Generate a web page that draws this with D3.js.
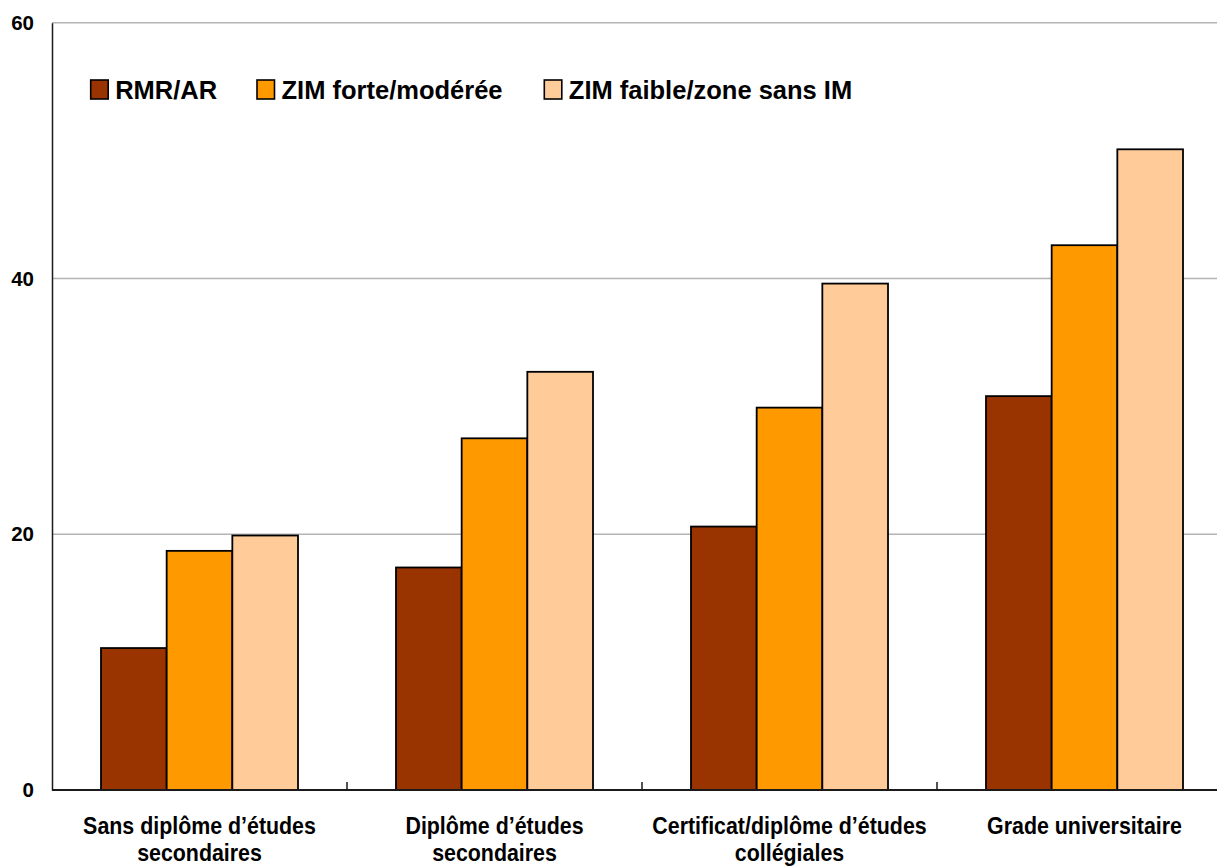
<!DOCTYPE html>
<html>
<head>
<meta charset="utf-8">
<script src="https://cdn.jsdelivr.net/npm/d3@7"></script>
<style>
  html, body { margin: 0; padding: 0; background: #fff; }
  svg { display: block; }
  text { font-family: "Liberation Sans", Arial, sans-serif; font-weight: bold; fill: #000; }
</style>
</head>
<body>
<svg id="chart" width="1217" height="867"></svg>
<script>
// Education level categories (each label split into lines)
const categories = [
  "Sans diplôme d’études secondaires",
  "Diplôme d’études secondaires",
  "Certificat/diplôme d’études collégiales",
  "Grade universitaire"
];
const categoryLines = [
  ["Sans diplôme d’études", "secondaires"],
  ["Diplôme d’études", "secondaires"],
  ["Certificat/diplôme d’études", "collégiales"],
  ["Grade universitaire"]
];

// Series names and values (percent)
const seriesNames = ["RMR/AR", "ZIM forte/modérée", "ZIM faible/zone sans IM"];
const rmrAr        = [11.1, 17.4, 20.6, 30.8];
const zimForte     = [18.7, 27.5, 29.9, 42.6];
const zimFaible    = [19.9, 32.7, 39.6, 50.1];
const seriesValues = [rmrAr, zimForte, zimFaible];
const seriesColors = ["#993300", "#FF9900", "#FFCC99"];

// Y axis ticks
const yTicks = [0, 20, 40, 60];

const svg = d3.select("#chart");

// Plot frame
const plotLeft = 52, plotRight = 1232, plotTop = 22.7, plotBottom = 790;

const x0 = d3.scaleBand()
  .domain(categories)
  .range([plotLeft, plotRight])
  .paddingInner(0)
  .paddingOuter(0);

const x1 = d3.scaleBand()
  .domain(seriesNames)
  .range([0, x0.bandwidth()])
  .paddingInner(0)
  .paddingOuter(0.746);

const y = d3.scaleLinear()
  .domain([0, 60])
  .range([plotBottom, plotTop]);

// Horizontal gridlines
svg.append("g")
  .selectAll("line")
  .data(yTicks.filter(d => d > 0))
  .join("line")
  .attr("x1", plotLeft)
  .attr("x2", plotRight)
  .attr("y1", d => y(d))
  .attr("y2", d => y(d))
  .attr("stroke", "#b4b4b4")
  .attr("stroke-width", 1.5);

// Bars
const rows = categories.map((c, i) => ({
  cat: c,
  vals: seriesNames.map((s, j) => ({ s, v: seriesValues[j][i], color: seriesColors[j] }))
}));

svg.append("g")
  .selectAll("g")
  .data(rows)
  .join("g")
  .attr("transform", d => `translate(${x0(d.cat)},0)`)
  .selectAll("rect")
  .data(d => d.vals)
  .join("rect")
  .attr("x", d => x1(d.s))
  .attr("width", x1.bandwidth())
  .attr("y", d => y(d.v))
  .attr("height", d => y(0) - y(d.v))
  .attr("fill", d => d.color)
  .attr("stroke", "#000")
  .attr("stroke-width", 1.8);

// Left axis line with tick labels
const yAxis = d3.axisLeft(y).tickValues(yTicks).tickSize(0).tickPadding(18);
const yg = svg.append("g")
  .attr("transform", `translate(${plotLeft},0)`)
  .call(yAxis);
yg.select(".domain").attr("stroke", "#1a1a1a").attr("stroke-width", 1.5);
yg.selectAll("text")
  .style("font-family", "'Liberation Sans', Arial, sans-serif")
  .style("font-weight", "bold")
  .style("font-size", "20.5px")
  .attr("fill", "#000");

// Bottom axis with inward ticks at category boundaries
const xg = svg.append("g");
xg.append("line")
  .attr("x1", plotLeft).attr("x2", plotRight)
  .attr("y1", y(0)).attr("y2", y(0))
  .attr("stroke", "#1a1a1a").attr("stroke-width", 2);
xg.selectAll("line.tick")
  .data(categories.slice(1))
  .join("line")
  .attr("class", "tick")
  .attr("x1", d => x0(d)).attr("x2", d => x0(d))
  .attr("y1", y(0)).attr("y2", y(0) - 8)
  .attr("stroke", "#1a1a1a").attr("stroke-width", 1.5);

// Category labels, slightly condensed
const labelG = svg.append("g")
  .selectAll("g")
  .data(categories)
  .join("g")
  .attr("transform", d => `translate(${x0(d) + x0.bandwidth() / 2},834) scale(0.91,1)`);
labelG.each(function(d, i) {
  d3.select(this).selectAll("text")
    .data(categoryLines[i])
    .join("text")
    .attr("x", 0)
    .attr("y", (t, k) => k * 27)
    .attr("text-anchor", "middle")
    .style("font-size", "23.5px")
    .text(t => t);
});

// Legend
const legendX = [90.7, 257, 544.3];
const legend = svg.append("g")
  .selectAll("g")
  .data(seriesNames)
  .join("g")
  .attr("transform", (d, i) => `translate(${legendX[i]},80)`);
legend.append("rect")
  .attr("width", 17.5)
  .attr("height", 19)
  .attr("fill", (d, i) => seriesColors[i])
  .attr("stroke", "#000")
  .attr("stroke-width", 1.6);
legend.append("text")
  .attr("x", 24.5)
  .attr("y", 19)
  .style("font-size", "25.5px")
  .text(d => d);
</script>
</body>
</html>
